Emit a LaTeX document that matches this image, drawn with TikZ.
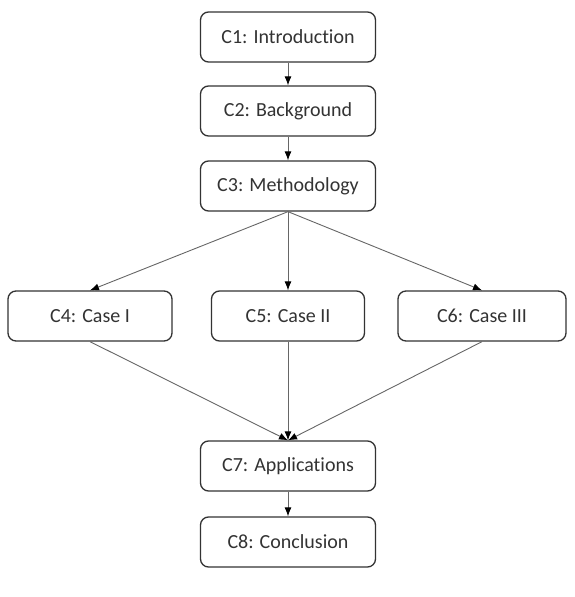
\documentclass[tikz,border=0pt]{standalone}
\usepackage{fontspec}
\setmainfont{Carlito}[Ligatures=NoCommon]
\usetikzlibrary{arrows.meta}
\newlength{\du}
\setlength{\du}{1pt}
\tikzset{
  chapter/.style={draw=black!80, line width=1.3\du, rounded corners=8\du, fill=white,
    minimum height=50\du, inner sep=0pt, font=\fontsize{20}{22}\selectfont, text=black!80},
  link/.style={draw=black!60, line width=0.9\du, -{Latex[length=9pt,width=7pt,black]}}
}
\begin{document}
\begin{tikzpicture}
\pgftransformyscale{-1.000000}
\useasboundingbox (0\du,0\du) rectangle (575\du,597\du);
\node[chapter, minimum width=175\du] (c1) at (288\du,37\du){C1: Introduction};
\node[chapter, minimum width=175\du] (c2) at (288\du,111\du){C2: Background};
\node[chapter, minimum width=175\du] (c3) at (288\du,186\du){C3: Methodology};
\node[chapter, minimum width=164\du] (c4) at (90\du,316\du){C4: Case I};
\node[chapter, minimum width=153\du] (c5) at (288\du,316\du){C5: Case II};
\node[chapter, minimum width=168\du] (c6) at (482\du,316\du){C6: Case III};
\node[chapter, minimum width=175\du] (c7) at (288\du,466\du){C7: Applications};
\node[chapter, minimum width=175\du] (c8) at (288\du,542\du){C8: Conclusion};
\draw[link] (c1) -- (c2);
\draw[link] (c2) -- (c3);
\foreach \n in {c4,c5,c6}{
  \draw[link] (c3.south) -- (\n.north);
  \draw[link] (\n.south) -- (c7.north);
}
\draw[link] (c7) -- (c8);
\end{tikzpicture}
\end{document}
